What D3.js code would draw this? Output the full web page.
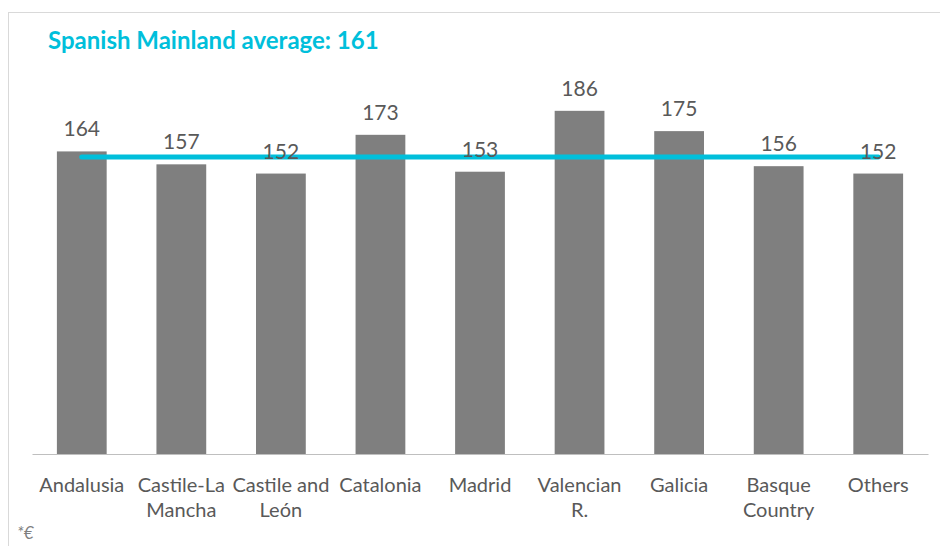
<!DOCTYPE html>
<html>
<head>
<meta charset="utf-8">
<script src="https://cdn.jsdelivr.net/npm/d3@7"></script>
<style>
  html, body { margin: 0; padding: 0; background: #fff; }
  svg { display: block; }
</style>
</head>
<body>
<svg id="chart" width="940" height="546"></svg>
<script>
const categories = ["Andalusia", "Castile-La Mancha", "Castile and León", "Catalonia", "Madrid", "Valencian R.", "Galicia", "Basque Country", "Others"];
const categoryLines = [["Andalusia"], ["Castile-La", "Mancha"], ["Castile and", "León"], ["Catalonia"], ["Madrid"], ["Valencian", "R."], ["Galicia"], ["Basque", "Country"], ["Others"]];
const values = [164, 157, 152, 173, 153, 186, 175, 156, 152];
const average = 161;
const titleText = "Spanish Mainland average: 161";
const footnote = "*€";

const svg = d3.select("#chart");
const font = "Lato, 'Open Sans', sans-serif";

// outer border
svg.append("rect").attr("x", 8.5).attr("y", 12.5).attr("width", 940).attr("height", 540)
  .attr("fill", "none").attr("stroke", "#d9d9d9").attr("stroke-width", 1);

const x = d3.scaleBand().domain(categories).range([32, 928]).paddingInner(0.5).paddingOuter(0.25);
const y = d3.scaleLinear().domain([0, 200]).range([454, 85]);

// bars
svg.append("g").selectAll("rect").data(values).join("rect")
  .attr("x", (d, i) => x(categories[i]))
  .attr("y", d => y(d))
  .attr("width", x.bandwidth())
  .attr("height", d => y(0) - y(d))
  .attr("fill", "#7f7f7f");

// axis baseline
const axis = svg.append("g").attr("transform", `translate(0,${y(0)})`)
  .call(d3.axisBottom(x).tickSize(0).tickFormat(""));
axis.select(".domain").attr("stroke", "#bfbfbf").attr("stroke-width", 1.2);

// average line
const line = d3.line().x(d => x(d) + x.bandwidth() / 2).y(() => y(average));
svg.append("path").datum([categories[0], categories[categories.length - 1]])
  .attr("d", line).attr("stroke", "#00bfdb").attr("stroke-width", 5)
  .attr("stroke-linecap", "round").attr("fill", "none");

// value labels
svg.append("g").selectAll("text").data(values).join("text")
  .attr("x", (d, i) => x(categories[i]) + x.bandwidth() / 2)
  .attr("y", d => y(d) - 15)
  .attr("text-anchor", "middle")
  .attr("font-family", font).attr("font-size", 21)
  .attr("fill", "#595959")
  .text(d => d);

// category labels
const cat = svg.append("g").selectAll("text").data(categoryLines).join("text")
  .attr("text-anchor", "middle")
  .attr("font-family", font).attr("font-size", 20)
  .attr("fill", "#595959");
cat.each(function(lines, i) {
  const t = d3.select(this);
  lines.forEach((l, j) => {
    t.append("tspan").attr("x", x(categories[i]) + x.bandwidth() / 2)
      .attr("y", 492 + j * 25).text(l);
  });
});

// title
svg.append("text").attr("x", 48).attr("y", 49)
  .attr("font-family", font).attr("font-size", 24).attr("font-weight", "bold")
  .attr("fill", "#00bfdb").text(titleText);

// footnote
svg.append("text").attr("x", 17).attr("y", 539)
  .attr("font-family", font).attr("font-size", 17).attr("font-style", "italic")
  .attr("fill", "#7f7f7f").text(footnote);
</script>
</body>
</html>
